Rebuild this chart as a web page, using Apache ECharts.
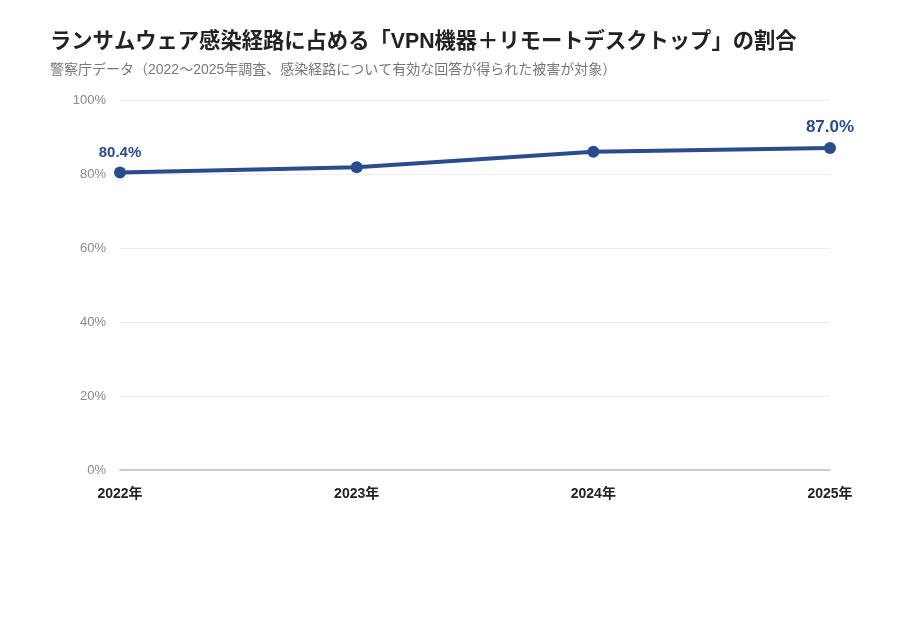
<!DOCTYPE html>
<html>
<head>
<meta charset="utf-8">
<script src="https://cdn.jsdelivr.net/npm/echarts@6/dist/echarts.min.js"></script>
<style>
  html, body { margin: 0; padding: 0; background: #fff; }
  #chart { width: 920px; height: 620px; }
</style>
</head>
<body>
<div id="chart"></div>
<script>
// 年ごとの割合（%）
const years = ['2022年', '2023年', '2024年', '2025年'];
const shares = [80.4, 81.8, 86.0, 87.0];

const mainColor = '#2b4c8c';
const fontFamily = '"Liberation Sans", "Noto Sans CJK JP", sans-serif';

const chart = echarts.init(document.getElementById('chart'));

const option = {
    backgroundColor: '#ffffff',
    textStyle: { fontFamily: fontFamily },
    title: {
        text: 'ランサムウェア感染経路に占める「VPN機器＋リモートデスクトップ」の割合',
        subtext: '警察庁データ（2022〜2025年調査、感染経路について有効な回答が得られた被害が対象）',
        left: 45,
        top: 26,
        itemGap: 11,
        textStyle: { color: '#222222', fontSize: 21.3, fontWeight: 'bold', fontFamily: fontFamily },
        subtextStyle: { color: '#777777', fontSize: 14, fontFamily: fontFamily }
    },
    grid: {
        left: 120,
        right: 90,
        top: 100,
        bottom: 150
    },
    xAxis: {
        type: 'category',
        data: years,
        boundaryGap: false,
        axisLine: { lineStyle: { color: '#c8cad8', width: 2 } },
        axisTick: { show: false },
        axisLabel: {
            color: '#222222',
            fontSize: 14,
            fontWeight: 'bold',
            margin: 17
        }
    },
    yAxis: {
        type: 'value',
        min: 0,
        max: 100,
        interval: 20,
        axisLine: { show: false },
        axisTick: { show: false },
        axisLabel: {
            color: '#888888',
            fontSize: 13,
            margin: 14,
            formatter: '{value}%'
        },
        splitLine: { lineStyle: { color: '#eeeef2', width: 1 } }
    },
    series: [
        {
            name: '割合',
            type: 'line',
            symbol: 'circle',
            symbolSize: 12,
            lineStyle: { color: mainColor, width: 4 },
            itemStyle: { color: mainColor },
            label: {
                show: true,
                position: 'top',
                distance: 6,
                color: mainColor,
                fontWeight: 'bold',
                fontSize: 15,
                formatter: function(p) {
                    // 最初と最後の点だけ表示
                    if (p.dataIndex === 0 || p.dataIndex === shares.length - 1) {
                        return p.value.toFixed(1) + '%';
                    }
                    return '';
                }
            },
            // 最後の点のラベルは大きめ
            data: shares.map(function(v, i) {
                if (i === shares.length - 1) {
                    return { value: v, label: { fontSize: 17, distance: 6 } };
                }
                return v;
            })
        }
    ]
};

chart.setOption(option);
</script>
</body>
</html>
